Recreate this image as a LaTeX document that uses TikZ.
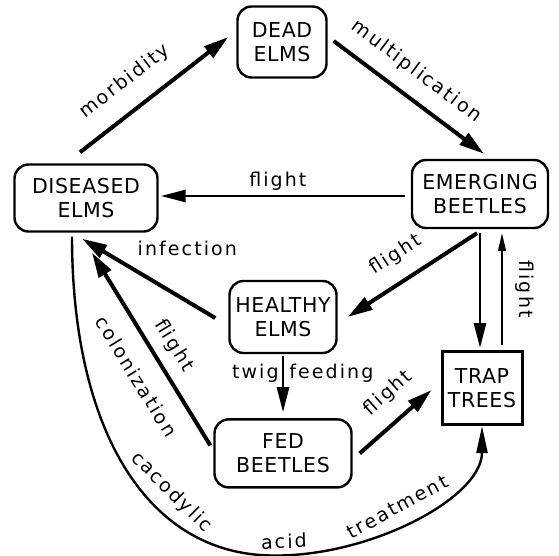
\documentclass[tikz,border=0pt]{standalone}
\usepackage{fontspec}
\setmainfont{DejaVu Sans}
\newfontfamily\boxfamily{DejaVu Sans}[LetterSpace=3]
\newfontfamily\lblfamily{DejaVu Sans}[LetterSpace=11]
\newcommand{\boxfont}{\boxfamily\fontsize{20.5}{24}\selectfont}
\newcommand{\lblfont}{\lblfamily\fontsize{19}{24}\selectfont}
\usetikzlibrary{
	arrows.meta,
	positioning,
	}
\tikzset{
	elmbox/.style={draw, rounded corners=14pt, line width=2.4pt, align=center, font=\boxfont, inner sep=0pt},
	trapbox/.style={draw, line width=3pt, align=center, font=\boxfont, inner sep=0pt},
	lbl/.style={font=\lblfont, inner sep=0pt, text height=14pt, text depth=4pt},
	fatarrow/.style={line width=4pt, -{Triangle[length=25pt,width=14pt]}},
	midarrow/.style={line width=2.7pt, -{Triangle[length=25pt,width=12pt]}},
	thinarrow/.style={line width=1.4pt, -{Triangle[length=18pt,width=8pt]}},
	curvearrow/.style={line width=2.4pt, -{Triangle[length=27pt,width=11pt]}},
}

\begin{document}
\begin{tikzpicture}[x=1pt, y=-1pt]
						\useasboundingbox (0,0) rectangle (559,556);
						\node[elmbox, minimum width=89pt, minimum height=71pt] (dead) at (282,42) {DEAD\\ELMS};
						\node[elmbox, minimum width=143pt, minimum height=67pt] (dis) at (86,198) {DISEASED\\ELMS};
						\node[elmbox, minimum width=136pt, minimum height=68pt] (emg) at (480,194) {EMERGING\\BEETLES};
						\node[elmbox, minimum width=107pt, minimum height=72pt] (hea) at (283,317) {HEALTHY\\ELMS};
						\node[elmbox, minimum width=137pt, minimum height=68pt, below=64pt of hea] (fed) {FED\\BEETLES};
						\node[trapbox, minimum width=80pt, minimum height=73pt] (trap) at (482,388) {TRAP\\TREES};
						\coordinate (low) at (260,555);
	
						\draw[fatarrow] ([shift={(-6,-11)}]dis.north) -- node[lbl, pos=.42, sloped, above=17pt] {morbidity} ([shift={(-8,-5)}]dead.west);
						\draw[fatarrow] ([shift={(6,-1)}]dead.east) -- node[lbl, pos=.45, sloped, above=14pt] {multiplication} ([shift={(4,-5)}]emg.north);
						\draw[midarrow] ([shift={(-6,2)}]emg.west) -- node[lbl, pos=.52, above=4pt] {flight} ([shift={(2,-2)}]dis.east);
						\draw[fatarrow] ([shift={(-3,4)}]emg.south) -- node[lbl, pos=.52, sloped, above=15pt] {flight} ([shift={(10,0)}]hea.east);
						\draw[midarrow] ([shift={(0,4)}]emg.south) -- ([shift={(-2,-2)}]trap.north);
						\draw[thinarrow] ([shift={(20,-5)}]trap.north) -- node[lbl, pos=.5, xshift=22pt, rotate=-90] {flight} ([shift={(22,4)}]emg.south);
						\draw[fatarrow] ([shift={(-13,1)}]hea.west) -- node[lbl, pos=.21, above=40pt] {infection} ([shift={(-4,6)}]dis.south);
						\draw[fatarrow] ([shift={(-3,-8)}]fed.west) -- node[lbl, pos=.46, sloped, above=10pt] {flight} node[lbl, pos=.43, sloped, below=18pt] {colonization} ([shift={(6,20)}]dis.south);
						\draw[midarrow] ([shift={(0,2)}]hea.south) -- node[lbl, pos=.3, left=3pt] {twig} node[lbl, pos=.3, right=5pt] {feeding} ([shift={(0,-6)}]fed.north);
						\draw[fatarrow] ([shift={(7,0)}]fed.east) -- node[lbl, pos=.64, sloped, above=15pt] {flight} ([shift={(-9,2)}]trap.west);
						\draw[curvearrow] ([shift={(-14,4)}]dis.south) .. controls (72,420) and (140,546) .. (low) node[lbl, pos=.66, sloped, above=11pt] {cacodylic}
							.. controls (360,562) and (482,500) .. (trap.south) node[lbl, pos=.08, sloped, above=2pt] {acid} node[lbl, pos=.49, sloped, above=6pt] {treatment};
					\end{tikzpicture}
\end{document}
